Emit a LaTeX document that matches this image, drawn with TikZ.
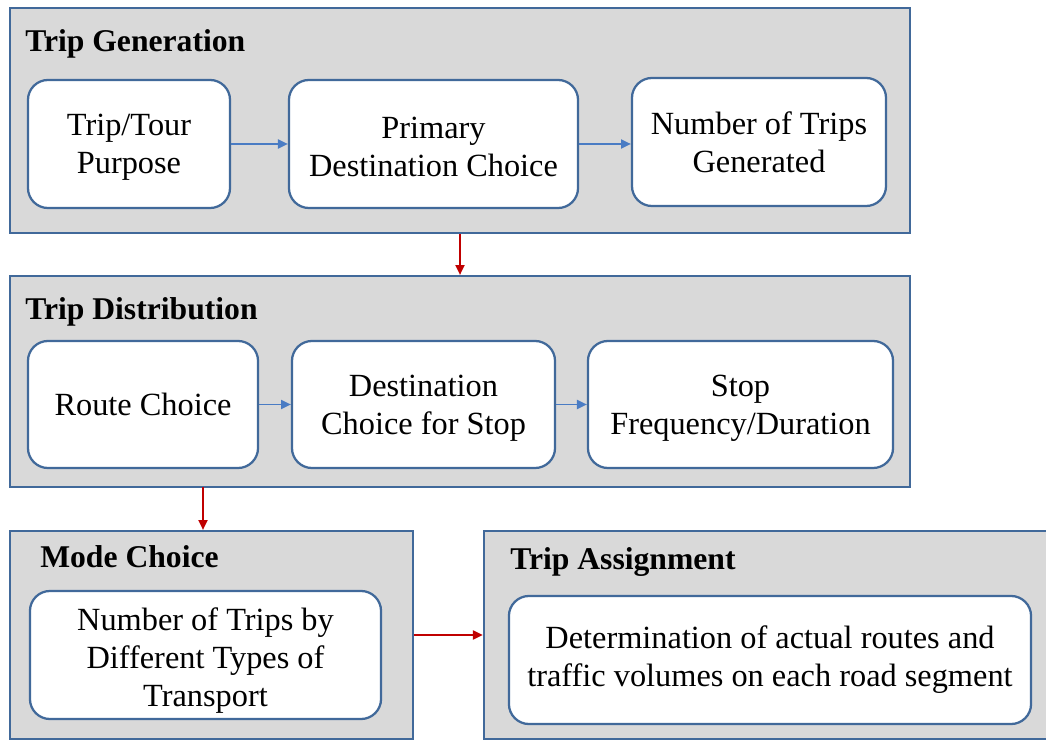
\documentclass[tikz,border=0pt]{standalone}
\usepackage{fontspec}
\setmainfont{Liberation Serif}
\usetikzlibrary{arrows.meta}

\definecolor{panelgray}{HTML}{D9D9D9}
\definecolor{edgeblue}{HTML}{41699A}
\definecolor{arrblue}{HTML}{4A7CC4}
\definecolor{arrred}{HTML}{C00000}

\begin{document}
\begin{tikzpicture}[x=0.025cm, y=-0.025cm,
	panel/.style={draw=edgeblue, line width=1.6pt, fill=panelgray, rectangle},
	inbox/.style={draw=edgeblue, line width=1.6pt, fill=white, rounded corners=0.5cm, align=center, font=\fontsize{23}{27}\selectfont},
	title/.style={anchor=base west, inner sep=0pt, font=\fontsize{22.5}{25}\selectfont\bfseries},
	bluearr/.style={draw=arrblue, line width=1pt, -{Triangle[length=7pt, width=6.5pt]}},
	redarr/.style={draw=arrred, line width=1pt, -{Triangle[length=7pt, width=6.5pt]}}]
				\useasboundingbox (0,0) rectangle (1046,740);
				% panels
				\node[panel, minimum width=22.5cm, minimum height=5.625cm] (gen) at (460,120.5) {};
				\node[panel, minimum width=22.5cm, minimum height=5.275cm] (dist) at (460,381.5) {};
				\node[panel, minimum width=10.075cm, minimum height=5.2cm] (mode) at (211.5,635) {};
				\node[panel, minimum width=14.4cm, minimum height=5.2cm] (assign) at (772,635) {};
				\node[title] at (25,52) {Trip Generation};
				\node[title] at (25,320) {Trip Distribution};
				\node[title] at (40,568) {Mode Choice};
				\node[title] at (510,570) {Trip Assignment};
				% trip generation
				\node[inbox, minimum width=5.05cm, minimum height=3.2cm] (purpose) at (129,144) {\rule{0pt}{20pt}Trip/Tour\\Purpose};
				\node[inbox, minimum width=7.225cm, minimum height=3.2cm] (primdest) at (433.5,144) {\rule{0pt}{20pt}Primary\\Destination Choice};
				\node[inbox, minimum width=6.35cm, minimum height=3.2cm] (numtrips) at (759,142) {Number of Trips\\Generated};
				\draw[bluearr] (purpose) -- (primdest);
				\draw[bluearr] (primdest.east) -- (primdest.east -| numtrips.west);
				% trip distribution
				\node[inbox, minimum width=5.75cm, minimum height=3.175cm] (route) at (143,404.5) {Route Choice};
				\node[inbox, minimum width=6.575cm, minimum height=3.175cm] (deststop) at (423.5,404.5) {\rule{0pt}{20pt}Destination\\Choice for Stop};
				\node[inbox, minimum width=7.625cm, minimum height=3.175cm] (stopfreq) at (740.5,404.5) {\rule{0pt}{20pt}Stop\\Frequency/Duration};
				\draw[bluearr] (route) -- (deststop);
				\draw[bluearr] (deststop) -- (stopfreq);
				% mode choice and assignment
				\node[inbox, minimum width=8.775cm, minimum height=3.2cm] (bytype) at (205.5,655) {\rule{0pt}{24pt}Number of Trips by\\Different Types of\\Transport};
				\node[inbox, minimum width=13.05cm, minimum height=3.2cm] (routes) at (770,660) {Determination of actual routes and\\traffic volumes on each road segment};
				\coordinate (d2m) at (203,487);
				\draw[redarr] (gen) -- (dist);
				\draw[redarr] (d2m) -- (d2m |- mode.north);
				\draw[redarr] (mode) -- (assign);
			\end{tikzpicture}
\end{document}
